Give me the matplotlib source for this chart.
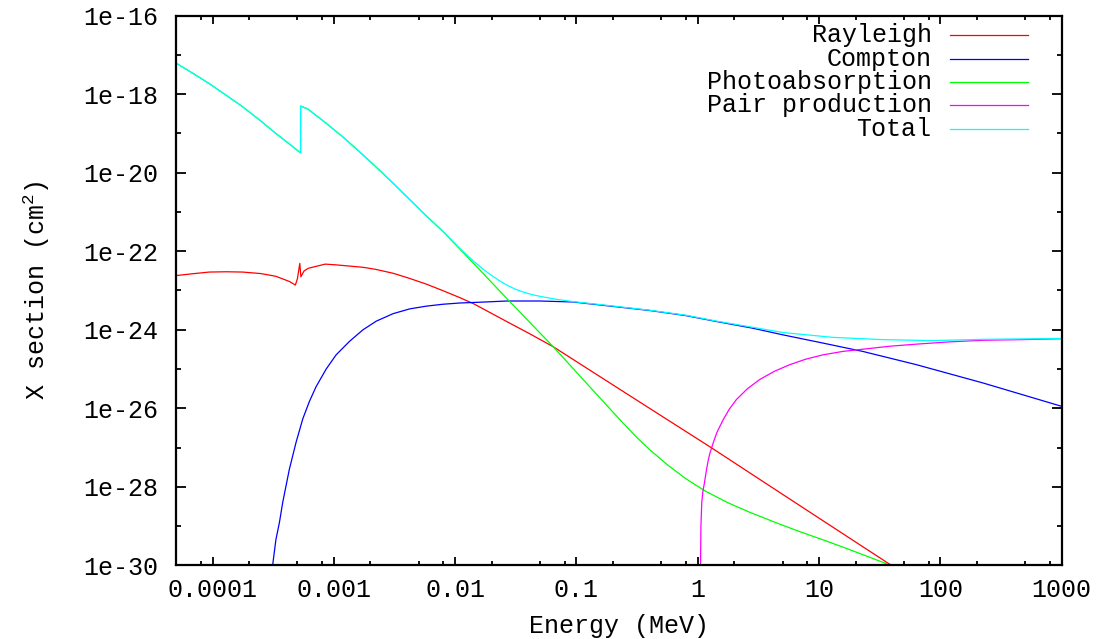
import numpy as np
import matplotlib
matplotlib.use("Agg")
import matplotlib.pyplot as plt
from matplotlib.ticker import FixedLocator, FuncFormatter, LogLocator, NullFormatter

plt.rcParams['font.family'] = ['Liberation Mono', 'DejaVu Sans Mono']
plt.rcParams['mathtext.fontset'] = 'custom'
plt.rcParams['mathtext.rm'] = 'Liberation Mono'
plt.rcParams['mathtext.it'] = 'Liberation Mono'

FS = 18

# ---------------- data ----------------
ray_E = [5.0e-5, 7.08e-5, 9.4e-5, 1.3e-4, 1.77e-4, 2.5e-4, 3.33e-4, 4.3e-4, 4.82e-4,
         5.01e-4, 5.24e-4, 5.35e-4, 5.69e-4, 6.19e-4, 8.5e-4, 1.04e-3, 1.74e-3, 2.2e-3,
         3.08e-3, 4.2e-3, 5.8e-3, 8.0e-3, 1.09e-2, 1.42e-2, 2.66e-2, 4.0e-2, 6.43e-2,
         0.177, 0.40, 1.30, 5.05, 17.9, 39.4, 60.0]
ray_S = [2.4e-23, 2.7e-23, 2.95e-23, 3.0e-23, 2.95e-23, 2.7e-23, 2.3e-23, 1.7e-23, 1.38e-23,
         2.0e-23, 4.9e-23, 2.24e-23, 3.16e-23, 3.7e-23, 4.7e-23, 4.5e-23, 3.9e-23, 3.47e-23,
         2.75e-23, 2.04e-23, 1.45e-23, 9.8e-24, 6.6e-24, 4.6e-24, 1.62e-24, 8.3e-25, 3.7e-25,
         5.0e-26, 1.0e-26, 9.8e-28, 6.3e-29, 4.9e-30, 1.0e-30, 4.3e-31]

comp_E = [2.95e-4, 3.13e-4, 3.33e-4, 3.56e-4, 3.79e-4, 4.3e-4, 4.89e-4, 5.55e-4, 6.3e-4,
          7.14e-4, 8.65e-4, 1.045e-3, 1.35e-3, 1.74e-3, 2.24e-3, 3.08e-3, 4.22e-3, 5.8e-3,
          7.96e-3, 1.09e-2, 1.78e-2, 2.66e-2, 5.0e-2, 9.4e-2, 0.177, 0.40, 0.794, 1.43,
          2.82, 5.05, 10.0, 23.0, 63.4, 225.0, 1000.0]
comp_S = [3.2e-31, 1.0e-30, 4.5e-30, 1.23e-29, 4.0e-29, 2.8e-28, 1.38e-27, 5.4e-27, 1.51e-26,
          3.55e-26, 1.0e-25, 2.3e-25, 5.1e-25, 1.0e-24, 1.66e-24, 2.57e-24, 3.4e-24, 4.0e-24,
          4.47e-24, 4.8e-24, 5.1e-24, 5.4e-24, 5.4e-24, 5.1e-24, 4.1e-24, 3.1e-24, 2.3e-24,
          1.62e-24, 1.1e-24, 7.4e-25, 4.8e-25, 2.8e-25, 1.29e-25, 4.4e-26, 1.12e-26]

photo_E = [5.0e-5, 7.08e-5, 9.4e-5, 1.29e-4, 1.77e-4, 2.45e-4, 3.33e-4, 4.27e-4, 5.32e-4,
           5.32e-4, 6.1e-4, 8.5e-4, 1.19e-3, 1.62e-3, 2.24e-3, 3.09e-3, 4.2e-3, 5.75e-3,
           7.96e-3, 1.5e-2, 2.66e-2, 6.43e-2, 0.129, 0.242, 0.316, 0.40, 0.562, 0.794,
           1.143, 1.778, 2.685, 4.467, 6.93, 11.2, 17.9, 35.9, 63.1]
photo_S = [6.2e-18, 3.24e-18, 1.86e-18, 9.5e-19, 4.8e-19, 2.19e-19, 1.0e-19, 5.5e-20, 3.2e-20,
           5.0e-19, 4.2e-19, 1.9e-19, 8.1e-20, 3.47e-20, 1.38e-20, 5.37e-21, 2.1e-21, 8.1e-22,
           3.16e-22, 4.1e-23, 6.3e-24, 3.7e-25, 3.5e-26, 4.2e-27, 1.78e-27, 8.9e-28, 3.63e-28,
           1.62e-28, 7.9e-29, 3.9e-29, 2.24e-29, 1.2e-29, 7.2e-30, 4.27e-30, 2.5e-30, 1.1e-30,
           5.5e-31]

pair_E = [1.052, 1.062, 1.079, 1.102, 1.135, 1.175, 1.216, 1.253, 1.30, 1.368, 1.445, 1.62,
          1.82, 2.08, 2.57, 3.24, 4.27, 5.73, 7.76, 10.8, 15.85, 23.1, 38.0, 63.4, 117.5,
          225.0, 468.0, 1000.0]
pair_S = [6.3e-31, 1.0e-29, 4.0e-29, 7.6e-29, 1.26e-28, 2.5e-28, 4.5e-28, 6.8e-28, 9.8e-28,
          1.58e-27, 2.5e-27, 5.1e-27, 9.5e-27, 1.66e-26, 3.16e-26, 5.4e-26, 8.7e-26, 1.29e-25,
          1.78e-25, 2.3e-25, 2.82e-25, 3.2e-25, 3.8e-25, 4.3e-25, 4.9e-25, 5.4e-25, 5.6e-25,
          5.9e-25]

tot_E = [5.0e-5, 7.08e-5, 9.4e-5, 1.29e-4, 1.77e-4, 2.45e-4, 3.33e-4, 4.27e-4, 5.32e-4,
         5.32e-4, 6.1e-4, 8.5e-4, 1.19e-3, 1.62e-3, 2.24e-3, 3.09e-3, 4.2e-3, 5.75e-3,
         7.96e-3, 1.12e-2, 1.42e-2, 1.66e-2, 1.94e-2, 2.29e-2, 2.66e-2, 3.16e-2, 3.65e-2,
         4.27e-2, 5.0e-2, 6.76e-2, 9.4e-2, 0.177, 0.40, 0.794, 1.43, 2.82, 5.05, 13.0, 33.7,
         87.0, 225.0, 1000.0]
tot_S = [6.2e-18, 3.24e-18, 1.86e-18, 9.5e-19, 4.8e-19, 2.19e-19, 1.0e-19, 5.5e-20, 3.2e-20,
         5.0e-19, 4.2e-19, 1.9e-19, 8.1e-20, 3.47e-20, 1.38e-20, 5.37e-21, 2.1e-21, 8.1e-22,
         3.16e-22, 1.1e-22, 5.6e-23, 3.7e-23, 2.57e-23, 1.82e-23, 1.38e-23, 1.07e-23, 9.1e-24,
         7.9e-24, 7.1e-24, 6.0e-24, 5.2e-24, 4.2e-24, 3.15e-24, 2.35e-24, 1.66e-24, 1.16e-24,
         8.5e-25, 6.4e-25, 5.6e-25, 5.3e-25, 5.7e-25, 6.0e-25]

series = [
    ("Rayleigh", ray_E, ray_S, "#ff0000"),
    ("Compton", comp_E, comp_S, "#0000ff"),
    ("Photoabsorption", photo_E, photo_S, "#00ff00"),
    ("Pair production", pair_E, pair_S, "#ff00ff"),
    ("Total", tot_E, tot_S, "#00ffff"),
]

x_major = [1e-4, 1e-3, 1e-2, 1e-1, 1, 10, 100, 1000]
y_major = [1e-30, 1e-28, 1e-26, 1e-24, 1e-22, 1e-20, 1e-18, 1e-16]
y_minor = [1e-29, 1e-27, 1e-25, 1e-23, 1e-21, 1e-19, 1e-17]

# ---------------- figure ----------------
fig = plt.figure(figsize=(11.11, 6.39), dpi=100)
ax = fig.add_axes([176 / 1111, 1 - 565.3 / 639, (1061.7 - 176) / 1111, (565.3 - 15.7) / 639])

for name, E, S, c in series:
    ax.plot(E, S, color=c, lw=0.9)

ax.set_xscale('log')
ax.set_yscale('log')
ax.set_xlim(5e-5, 1000)
ax.set_ylim(1e-30, 1e-16)

ax.xaxis.set_major_locator(FixedLocator(x_major))
ax.xaxis.set_major_formatter(FuncFormatter(lambda v, p: f"{v:g}"))
ax.xaxis.set_minor_locator(LogLocator(base=10, subs=[2, 5, 8], numticks=50))
ax.xaxis.set_minor_formatter(NullFormatter())
ax.yaxis.set_major_locator(FixedLocator(y_major))
ax.yaxis.set_major_formatter(FuncFormatter(lambda v, p: f"1e{int(round(np.log10(v)))}"))
ax.yaxis.set_minor_locator(FixedLocator(y_minor))
ax.yaxis.set_minor_formatter(NullFormatter())

ax.tick_params(axis='both', which='both', direction='in', top=True, right=True,
               labelsize=FS, colors='black', width=1.3)
ax.tick_params(axis='x', which='major', length=6, pad=9)
ax.tick_params(axis='x', which='minor', length=2.6)
ax.tick_params(axis='y', which='major', length=7.2, pad=13)
ax.tick_params(axis='y', which='minor', length=3.6)
for s in ax.spines.values():
    s.set_linewidth(1.6)

ax.set_xlabel("Energy (MeV)", fontsize=FS, labelpad=9)
ax.set_ylabel("X section (cm$^{2}$)", fontsize=FS, labelpad=22)

# legend (gnuplot style: right-aligned text, sample line on the right)
y0 = (565.3 - 35.3) / 549.6
dy = 23.3 / 549.6
for i, (name, E, S, c) in enumerate(series):
    yy = y0 - i * dy
    ax.text(0.853, yy, name, transform=ax.transAxes, ha='right', va='center', fontsize=FS)
    ax.plot([0.874, 0.9616], [yy, yy], transform=ax.transAxes, color=c, lw=0.9, clip_on=False)

fig.savefig("out.png", dpi=100)
